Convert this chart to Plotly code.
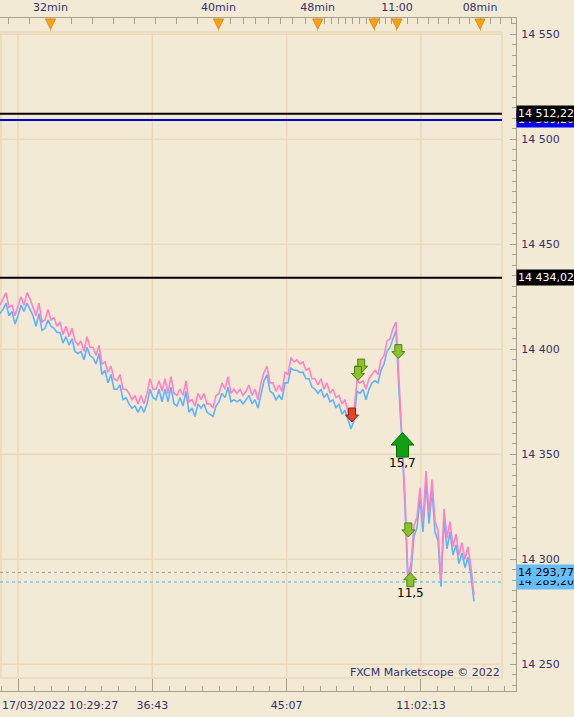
import plotly.graph_objects as go

# ---------------- data ----------------
ask_pink = [
    14421, 14424, 14427, 14420, 14421, 14416, 14421, 14425, 14421, 14427,
    14424, 14420, 14416, 14422, 14413, 14414, 14419, 14414, 14415, 14411,
    14413, 14407, 14411, 14406, 14410, 14404, 14402, 14404, 14399, 14406,
    14401, 14401, 14397, 14402, 14393, 14394, 14389, 14392, 14386, 14385,
    14388, 14381, 14381, 14379, 14376, 14378, 14374, 14378, 14374, 14379,
    14386, 14381, 14381, 14385, 14380, 14386, 14379, 14387, 14379, 14378,
    14381, 14378, 14385, 14375, 14376, 14373, 14379, 14376, 14379, 14374,
    14374, 14372, 14378, 14379, 14384, 14381, 14387, 14379, 14381, 14379,
    14381, 14378, 14380, 14383, 14378, 14381, 14376, 14384, 14389, 14392,
    14384, 14384, 14380, 14383, 14380, 14389, 14388, 14396, 14394, 14395,
    14393, 14394, 14390, 14391, 14386, 14386, 14383, 14386, 14381, 14384,
    14379, 14381, 14377, 14378, 14374, 14376, 14370, 14368, 14371, 14385,
    14384, 14385, 14381, 14386, 14388, 14390, 14388, 14395, 14397, 14404,
    14405, 14410, 14413, 14385, 14360, 14330, 14292, 14298, 14316, 14320,
    14334, 14318, 14342, 14322, 14338, 14318, 14314, 14290, 14324, 14310,
    14318, 14306, 14312, 14302, 14308, 14300, 14306, 14296, 14283,
]
bid_blue = [
    14417, 14419, 14422, 14416, 14418, 14412, 14416, 14421, 14418, 14422,
    14419, 14416, 14411, 14417, 14409, 14410, 14414, 14411, 14410, 14408,
    14408, 14403, 14406, 14402, 14405, 14399, 14398, 14399, 14395, 14401,
    14397, 14396, 14393, 14398, 14388, 14390, 14384, 14388, 14381, 14381,
    14383, 14376, 14377, 14374, 14372, 14373, 14370, 14373, 14370, 14374,
    14381, 14377, 14376, 14381, 14375, 14381, 14375, 14382, 14374, 14373,
    14377, 14373, 14380, 14370, 14372, 14368, 14374, 14372, 14374, 14370,
    14369, 14368, 14373, 14375, 14379, 14377, 14382, 14375, 14376, 14375,
    14376, 14374, 14376, 14378, 14374, 14376, 14372, 14379, 14385, 14388,
    14380, 14379, 14376, 14378, 14376, 14384, 14384, 14391, 14390, 14390,
    14389, 14389, 14386, 14386, 14382, 14381, 14379, 14381, 14377, 14379,
    14375, 14376, 14372, 14374, 14369, 14371, 14366, 14362, 14366, 14380,
    14379, 14381, 14376, 14381, 14384, 14385, 14384, 14390, 14393, 14399,
    14401, 14405, 14409, 14380, 14356, 14325, 14288, 14294, 14311, 14315,
    14329, 14313, 14337, 14317, 14333, 14313, 14309, 14287, 14319, 14305,
    14313, 14302, 14307, 14298, 14303, 14296, 14301, 14292, 14280,
]

first_time_label = "17/03/2022 10:29:27"
bottom_tick_labels = ["", "36:43", "45:07", "11:02:13"]

top_tick_labels = ["32min", "40min", "48min", "", "11:00", "08min"]
top_tick_minutes = [32, 40, 48, 56, 60, 68]          # minutes after 10:00
top_tick_idx = [16.83, 72.83, 105.9, 124.67, 132.33, 160.0]

level_prices = [14509.20, 14512.22, 14434.02, 14289.20, 14293.77]
level_labels = ["14 509,20", "14 512,22", "14 434,02", "14 289,20", "14 293,77"]

sig_idx = [117.33, 120.4, 119.33, 132.78, 134.17, 136.11, 136.78]
sig_price = [14368.7, 14392.0, 14388.5, 14398.9, 14354.4, 14314.0, 14290.3]
sig_dir = ["down", "down", "down", "down", "up", "down", "up"]
sig_kind = ["red", "lime", "lime", "lime", "big", "lime", "lime"]

trade_labels = ["15,7", "11,5"]
trade_idx = [134.17, 136.8]
trade_price = [14345.9, 14284.0]

# ---------------- styles ----------------
BG = "#F3EAD6"
GRID = "#EBD9B9"
AXIS = "#A8A08E"
TXT = "#34306A"
FONT = "DejaVu Sans"

X_RANGE = [0, 172]
Y_RANGE = [14237.29, 14557.76]
PANEL_X1 = 502 / 516
PANEL_Y0 = (691 - 678) / 673
PANEL_Y1 = (691 - 32) / 673

idx = list(range(len(ask_pink)))

fig = go.Figure()
fig.add_trace(go.Scatter(x=idx, y=bid_blue, mode="lines", line=dict(color="#5FB2FF", width=1.6),
                         hoverinfo="skip", showlegend=False))
fig.add_trace(go.Scatter(x=idx, y=ask_pink, mode="lines", line=dict(color="#FF82C6", width=1.6),
                         hoverinfo="skip", showlegend=False))

shapes = []
# panel border
shapes.append(dict(type="rect", xref="paper", yref="paper", x0=0.002, x1=PANEL_X1, y0=PANEL_Y0, y1=PANEL_Y1,
                   line=dict(color="#ECDDC0", width=2), layer="below"))
# vertical grid
bottom_tick_idx = [6 + 44.77 * k for k in range(len(bottom_tick_labels))]
for v in bottom_tick_idx:
    shapes.append(dict(type="line", xref="x", yref="paper", x0=v, x1=v, y0=PANEL_Y0, y1=PANEL_Y1,
                       line=dict(color=GRID, width=1.5), layer="below"))
# horizontal grid
for p in range(14250, 14551, 50):
    shapes.append(dict(type="line", xref="paper", yref="y", x0=0, x1=PANEL_X1, y0=p, y1=p,
                       line=dict(color=GRID, width=1.5), layer="below"))
# level lines
level_styles = [
    dict(color="#0000E0", width=2, dash="solid"),
    dict(color="#000000", width=2, dash="solid"),
    dict(color="#000000", width=2, dash="solid"),
    dict(color="#3CB8FF", width=1, dash="3px,3px"),
    dict(color="#9A9A9A", width=1, dash="3px,3px"),
]
for p, st in zip(level_prices, level_styles):
    shapes.append(dict(type="line", xref="paper", yref="y", x0=0, x1=PANEL_X1, y0=p, y1=p,
                       line=st, layer="below"))
# top triangles
for v in top_tick_idx:
    shapes.append(dict(type="path", xref="x2", yref="paper", xsizemode="pixel", ysizemode="pixel",
                       xanchor=v, yanchor=1, path="M -5 -1 L 5 -1 L 0 -11 Z",
                       fillcolor="#F7A21B", line=dict(color="#E48A0A", width=1), layer="above"))

# signal arrows
small_down = "M -3.5 7 L 3.5 7 L 3.5 0 L 6.5 0 L 0 -7 L -6.5 0 L -3.5 0 Z"
small_up = "M -3.5 -7 L 3.5 -7 L 3.5 0 L 6.5 0 L 0 7 L -6.5 0 L -3.5 0 Z"
big_up = "M -6 -12 L 6 -12 L 6 0 L 11.5 0 L 0 12.5 L -11.5 0 L -6 0 Z"
kind_style = {
    "red": ("#E2452C", "#9C1C0E"),
    "lime": ("#8CC22C", "#4F7E12"),
    "big": ("#12A012", "#066806"),
}
for sx, sp, sd, sk in zip(sig_idx, sig_price, sig_dir, sig_kind):
    if sk == "big":
        path = big_up
    else:
        path = small_down if sd == "down" else small_up
    fill, edge = kind_style[sk]
    shapes.append(dict(type="path", xref="x", yref="y", xsizemode="pixel", ysizemode="pixel",
                       xanchor=sx, yanchor=sp, path=path, fillcolor=fill,
                       line=dict(color=edge, width=1), layer="above"))

annotations = []
annotations.append(dict(xref="paper", yref="paper", x=0, y=-14 / 673, xanchor="left", yanchor="middle",
                        text=first_time_label, showarrow=False, font=dict(family=FONT, size=11, color=TXT)))
annotations.append(dict(xref="paper", yref="paper", x=PANEL_X1, y=19 / 673, xanchor="right", yanchor="middle",
                        text="FXCM Marketscope © 2022", showarrow=False,
                        font=dict(family=FONT, size=11, color=TXT)))
box_styles = [
    ("#0000FF", "#FFFF00"),
    ("#000000", "#FFFFFF"),
    ("#000000", "#FFFFFF"),
    ("#66BEFA", "#000000"),
    ("#66BEFA", "#000000"),
]
for p, lab, (bg, fg) in zip(level_prices, level_labels, box_styles):
    annotations.append(dict(xref="paper", yref="y", x=1.0, y=p, xanchor="left", yanchor="middle",
                            text=lab, showarrow=False, bgcolor=bg, borderpad=1,
                            font=dict(family=FONT, size=11, color=fg)))
for lab, tx, tp in zip(trade_labels, trade_idx, trade_price):
    annotations.append(dict(xref="x", yref="y", x=tx, y=tp, xanchor="center", yanchor="middle",
                            text=lab, showarrow=False, font=dict(family=FONT, size=12, color="#000000")))

# top minor ticks (one per minute)
top_minor = []
for a in range(len(top_tick_minutes) - 1):
    m0, m1 = top_tick_minutes[a], top_tick_minutes[a + 1]
    i0, i1 = top_tick_idx[a], top_tick_idx[a + 1]
    for m in range(m0 + 1, m1):
        top_minor.append(i0 + (i1 - i0) * (m - m0) / (m1 - m0))
step0 = (top_tick_idx[1] - top_tick_idx[0]) / (top_tick_minutes[1] - top_tick_minutes[0])
top_minor += [top_tick_idx[0] - step0 * k for k in (1, 2)]
stepN = (top_tick_idx[-1] - top_tick_idx[-2]) / (top_tick_minutes[-1] - top_tick_minutes[-2])
top_minor += [top_tick_idx[-1] + stepN * k for k in (1, 2, 3)]

fig.update_layout(
    width=574, height=717,
    margin=dict(l=0, r=58, t=18, b=26, autoexpand=False),
    paper_bgcolor=BG, plot_bgcolor=BG,
    separators=", ",
    showlegend=False,
    font=dict(family=FONT, size=11, color=TXT),
    shapes=shapes, annotations=annotations,
    xaxis=dict(range=X_RANGE, showgrid=False, zeroline=False, showline=True, linecolor=AXIS, linewidth=1,
               ticks="inside", ticklen=12, tickcolor=AXIS, tickwidth=1,
               tickmode="array", tickvals=bottom_tick_idx, ticktext=bottom_tick_labels,
               tickfont=dict(family=FONT, size=11, color=TXT), ticklabelstandoff=4,
               minor=dict(tick0=6, dtick=44.77 / 8, ticks="inside", ticklen=5, tickcolor=AXIS, showgrid=False),
               fixedrange=True),
    xaxis2=dict(range=X_RANGE, overlaying="x", side="top", anchor="y", showgrid=False, zeroline=False,
                showline=True, linecolor=AXIS, linewidth=1, ticks="inside", ticklen=13, tickcolor="#F0B050",
                tickmode="array", tickvals=top_tick_idx, ticktext=top_tick_labels,
                tickfont=dict(family=FONT, size=11, color=TXT), ticklabelstandoff=2,
                minor=dict(tickmode="array", tickvals=top_minor, ticks="inside", ticklen=6,
                           tickcolor=AXIS, showgrid=False),
                fixedrange=True),
    yaxis=dict(range=Y_RANGE, side="right", anchor="x", showgrid=False, zeroline=False, showline=True,
               linecolor=AXIS, linewidth=1, ticks="inside", ticklen=6, tickcolor=AXIS,
               tickmode="linear", tick0=14250, dtick=50, tickformat=",d",
               tickfont=dict(family=FONT, size=11, color=TXT), ticklabelstandoff=2,
               minor=dict(tick0=14250, dtick=5, ticks="inside", ticklen=4, tickcolor=AXIS, showgrid=False),
               fixedrange=True),
)

fig.write_html("out.html", config=dict(displayModeBar=False),
               post_script="document.body.style.margin='0';")
